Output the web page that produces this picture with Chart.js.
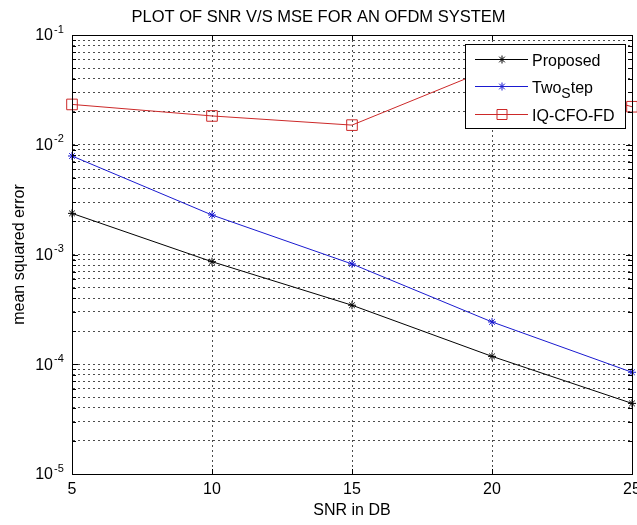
<!DOCTYPE html>
<html>
<head>
<meta charset="utf-8">
<script src="https://cdn.jsdelivr.net/npm/chart.js@4.4.0/dist/chart.umd.min.js"></script>
<style>
  html, body { margin: 0; padding: 0; background: #fff; }
</style>
</head>
<body>
<canvas id="myChart" width="637" height="525"></canvas>
<script>
// values
const snr = [5, 10, 15, 20, 25];
const proposed = [2.37e-3, 8.6e-4, 3.45e-4, 1.18e-4, 4.4e-5];
const twoStep = [7.9e-3, 2.29e-3, 8.2e-4, 2.43e-4, 8.45e-5];
const iqCfoFd = [2.33e-2, 1.83e-2, 1.51e-2, 5.0e-2, 2.22e-2];
const seriesNames = ["Proposed", "Two_Step", "IQ-CFO-FD"];
const xTicks = [5, 10, 15, 20, 25];
const yDecades = [1e-5, 1e-4, 1e-3, 1e-2, 1e-1];

const FONT = "'Liberation Sans', Arial, sans-serif";

const toPoints = (ys) => snr.map((x, i) => ({ x: x, y: ys[i] }));

// minor + major log ticks like matlab (1..9 per decade)
function logTicks() {
  const out = [];
  for (let d = 0; d < yDecades.length; d++) {
    const base = yDecades[d];
    if (d === yDecades.length - 1) {
      out.push({ value: base, major: true });
      break;
    }
    for (let m = 1; m <= 9; m++) {
      out.push({ value: +(base * m).toPrecision(6), major: m === 1 });
    }
  }
  return out;
}

// outer box, inward tick marks and the 10^n labels
const axesBox = {
  id: "axesBox",
  afterDatasetsDraw(chart) {
    const { ctx, chartArea: a, scales } = chart;
    const xs = scales.x, ys = scales.y;
    ctx.save();
    ctx.strokeStyle = "#000";
    ctx.lineWidth = 1;
    ctx.beginPath();
    ys.ticks.forEach((t) => {
      const y = Math.round(ys.getPixelForValue(t.value)) + 0.5;
      const len = t.major ? 6 : 4;
      ctx.moveTo(a.left, y); ctx.lineTo(a.left + len, y);
      ctx.moveTo(a.right, y); ctx.lineTo(a.right - len, y);
    });
    xTicks.forEach((v) => {
      const x = Math.round(xs.getPixelForValue(v)) + 0.5;
      ctx.moveTo(x, a.bottom); ctx.lineTo(x, a.bottom - 5);
      ctx.moveTo(x, a.top); ctx.lineTo(x, a.top + 5);
    });
    ctx.stroke();
    ctx.strokeRect(Math.round(a.left) + 0.5, Math.round(a.top) + 0.5,
      Math.round(a.right - a.left), Math.round(a.bottom - a.top));

    ctx.fillStyle = "#000";
    yDecades.forEach((v) => {
      const y = ys.getPixelForValue(v);
      ctx.font = "16px " + FONT;
      ctx.textAlign = "right";
      ctx.textBaseline = "middle";
      ctx.fillText("10", a.left - 19, y + 1);
      ctx.font = "11px " + FONT;
      ctx.textAlign = "left";
      ctx.textBaseline = "alphabetic";
      ctx.fillText(String(Math.round(Math.log10(v))), a.left - 18, y - 2.5);
    });
    ctx.restore();
  },
};

// matlab style legend box in the top right corner
const matlabLegend = {
  id: "matlabLegend",
  afterDraw(chart) {
    const { ctx, chartArea: a } = chart;
    const w = 160, h = 84;
    const left = a.right - 7 - w, top = a.top + 9;
    ctx.save();
    ctx.fillStyle = "#fff";
    ctx.fillRect(left, top, w, h);
    ctx.strokeStyle = "#000";
    ctx.lineWidth = 1;
    ctx.strokeRect(Math.round(left) + 0.5, Math.round(top) + 0.5, w, h);

    const rows = [15, 42, 70];
    chart.data.datasets.forEach((ds, i) => {
      const y = Math.round(top + rows[i]) + 0.5;
      ctx.strokeStyle = ds.borderColor;
      ctx.lineWidth = 1;
      ctx.beginPath();
      ctx.moveTo(left + 10, y);
      ctx.lineTo(left + 63, y);
      ctx.stroke();
      const mx = left + 37;
      ctx.beginPath();
      if (ds.pointStyle === "rect") {
        ctx.rect(mx - 5, y - 5, 10, 10);
      } else {
        const r = 4;
        ctx.moveTo(mx - r, y); ctx.lineTo(mx + r, y);
        ctx.moveTo(mx, y - r); ctx.lineTo(mx, y + r);
        const d = r * Math.SQRT1_2;
        ctx.moveTo(mx - d, y - d); ctx.lineTo(mx + d, y + d);
        ctx.moveTo(mx - d, y + d); ctx.lineTo(mx + d, y - d);
      }
      ctx.stroke();

      // "_" makes the next character a subscript, as in the original
      ctx.fillStyle = "#000";
      ctx.textAlign = "left";
      ctx.textBaseline = "alphabetic";
      let tx = left + 67;
      const base = y + 6;
      const parts = ds.label.split("_");
      ctx.font = "16px " + FONT;
      ctx.fillText(parts[0], tx, base);
      tx += ctx.measureText(parts[0]).width;
      if (parts.length > 1) {
        const sub = parts[1].charAt(0);
        const rest = parts[1].slice(1).toLowerCase();
        ctx.font = "14px " + FONT;
        ctx.fillText(sub, tx, base + 5);
        tx += ctx.measureText(sub).width;
        ctx.font = "16px " + FONT;
        ctx.fillText(rest, tx, base);
      }
    });
    ctx.restore();
  },
};

const context = document.getElementById("myChart").getContext("2d");
const config = {
  type: "line",
  data: {
    datasets: [
      {
        label: seriesNames[0],
        data: toPoints(proposed),
        borderColor: "#000000",
        pointStyle: "star",
        pointRadius: 4,
        pointBorderColor: "#000000",
      },
      {
        label: seriesNames[1],
        data: toPoints(twoStep),
        borderColor: "#1a1ad0",
        pointStyle: "star",
        pointRadius: 4,
        pointBorderColor: "#1a1ad0",
      },
      {
        label: seriesNames[2],
        data: toPoints(iqCfoFd),
        borderColor: "#cc2929",
        pointStyle: "rect",
        pointRadius: 7.5,
        pointBorderColor: "#cc2929",
        pointBackgroundColor: "rgba(0,0,0,0)",
      },
    ],
  },
  options: {
    responsive: false,
    animation: false,
    layout: { autoPadding: false, padding: { left: 0, right: 0, top: 0, bottom: 0 } },
    elements: {
      line: { borderWidth: 1, tension: 0 },
      point: { borderWidth: 1, hoverRadius: 4 },
    },
    datasets: { line: { clip: false } },
    plugins: {
      legend: { display: false },
      tooltip: { enabled: false },
      title: {
        display: true,
        text: "PLOT OF SNR V/S MSE FOR AN OFDM SYSTEM",
        color: "#000",
        font: { family: FONT, size: 16.5, weight: "normal" },
        padding: { top: 7.3, bottom: 7.9 },
      },
    },
    scales: {
      x: {
        type: "linear",
        min: 5,
        max: 25,
        afterBuildTicks: (s) => { s.ticks = xTicks.map((v) => ({ value: v })); },
        afterFit: (s) => {
          s.height = 51;
          s.paddingLeft = 0;
          s.paddingRight = 5;
        },
        ticks: {
          color: "#000",
          font: { family: FONT, size: 16 },
          padding: 6,
          maxRotation: 0,
        },
        grid: { color: "rgba(0,0,0,0.7)", lineWidth: 1, drawTicks: false },
        border: { display: true, color: "#000", width: 1, dash: [2, 3] },
        title: {
          display: true,
          text: "SNR in DB",
          color: "#000",
          font: { family: FONT, size: 16 },
          padding: { top: 0, bottom: 5 },
        },
      },
      y: {
        type: "logarithmic",
        min: 1e-5,
        max: 1e-1,
        afterBuildTicks: (s) => { s.ticks = logTicks(); },
        afterFit: (s) => {
          s.width = 72;
          s.paddingTop = 0;
          s.paddingBottom = 0;
        },
        ticks: { display: false },
        grid: { color: "rgba(0,0,0,0.7)", lineWidth: 1, drawTicks: false },
        border: { display: true, color: "#000", width: 1, dash: [2, 3] },
        title: {
          display: true,
          text: "mean squared error",
          color: "#000",
          font: { family: FONT, size: 16 },
          padding: { top: 10, bottom: 0 },
        },
      },
    },
  },
  plugins: [axesBox, matlabLegend],
};

const myChart = new Chart(context, config);
</script>
</body>
</html>
